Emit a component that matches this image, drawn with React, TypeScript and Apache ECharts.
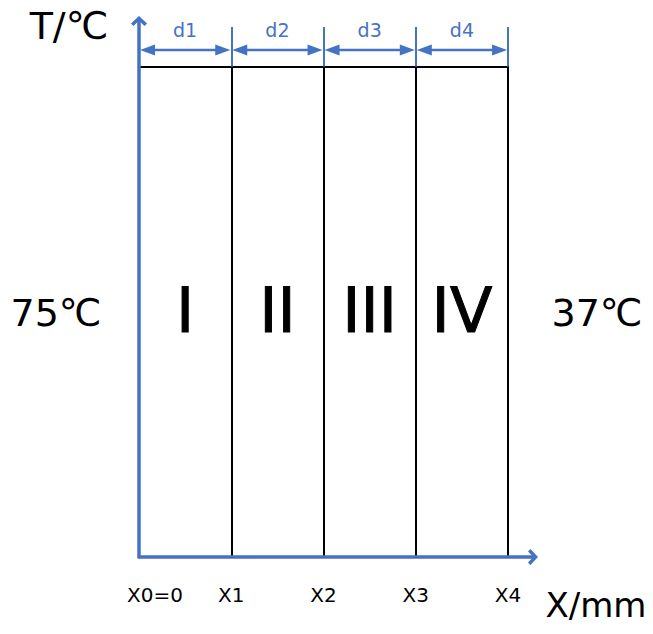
import { useEffect, useRef } from "react";
import * as echarts from "echarts";

// ---- data ----
const BOUNDARIES = [0, 1, 2, 3, 4];
const BOUNDARY_LABELS = ["X0=0", "X1", "X2", "X3", "X4"];
const LAYER_NAMES = ["I", "II", "III", "IV"];
const DIM_NAMES = ["d1", "d2", "d3", "d4"];
const X_MAX = 4.27;
const Y_MAX = 100;
const LAYER_TOP = 91.5;
const DIM_LEVEL = 94.6;
const TICK_TOP = 98.9;
const LABEL_LEVEL = 46;
const T_LEFT = "75℃";
const T_RIGHT = "37℃";
const X_NAME = "X/mm";
const Y_NAME = "T/℃";

const BLUE = "#4472C4";
const FONT = "'DejaVu Sans', 'Noto Sans CJK SC', sans-serif";
const CHEVRON = "path://M0,7.5L8,0L16,7.5L13.6,10L8,4.8L2.4,10Z";

export default function App() {
  const ref = useRef<HTMLDivElement>(null);
  useEffect(() => {
    document.body.style.margin = "0";
    const chart = echarts.init(ref.current!, undefined, { renderer: "svg" });

    const blackLines = [
      ...BOUNDARIES.map((b) => ({ coords: [[b, 0], [b, LAYER_TOP]] })),
      { coords: [[BOUNDARIES[0], LAYER_TOP], [BOUNDARIES[BOUNDARIES.length - 1], LAYER_TOP]] },
    ];
    const blueTicks = BOUNDARIES.slice(1).map((b) => ({ coords: [[b, LAYER_TOP], [b, TICK_TOP]] }));
    const dims = DIM_NAMES.map((n, i) => [BOUNDARIES[i], BOUNDARIES[i + 1], DIM_LEVEL, n]);
    const layers = LAYER_NAMES.map((n, i) => [(BOUNDARIES[i] + BOUNDARIES[i + 1]) / 2, LABEL_LEVEL, n]);

    const option: any = {
      animation: false,
      backgroundColor: "#fff",
      grid: { left: 139, right: 120, top: 21, bottom: 77, containLabel: false },
      xAxis: {
        type: "value",
        min: 0,
        max: X_MAX,
        interval: 1,
        z: 10,
        axisLine: {
          show: true,
          onZero: false,
          lineStyle: { color: BLUE, width: 3.5 },
          symbol: ["none", CHEVRON],
          symbolSize: [16, 10],
        },
        axisTick: { show: false },
        splitLine: { show: false },
        axisLabel: {
          show: true,
          margin: 28,
          color: "#000",
          fontSize: 20,
          fontFamily: FONT,
          formatter: (v: number) => {
            const i = BOUNDARIES.indexOf(v);
            if (i === 0) return `{first|${BOUNDARY_LABELS[0]}}`;
            return i > 0 ? BOUNDARY_LABELS[i] : "";
          },
          rich: {
            first: { padding: [0, 0, 0, 32], fontSize: 20, fontFamily: FONT, color: "#000" },
          },
        },
      },
      yAxis: {
        type: "value",
        min: 0,
        max: Y_MAX,
        z: 10,
        axisLine: {
          show: true,
          onZero: false,
          lineStyle: { color: BLUE, width: 3.5 },
          symbol: ["none", CHEVRON],
          symbolSize: [16, 10],
        },
        axisTick: { show: false },
        splitLine: { show: false },
        axisLabel: { show: false },
      },
      graphic: [
        { type: "text", x: 69, y: 26, style: { text: Y_NAME, fontSize: 38, fontFamily: FONT, fill: "#000", align: "center", verticalAlign: "middle" } },
        { type: "text", x: 596, y: 605, style: { text: X_NAME, fontSize: 34, fontFamily: FONT, fill: "#000", align: "center", verticalAlign: "middle" } },
        { type: "text", x: 56, y: 313, style: { text: T_LEFT, fontSize: 38, fontFamily: FONT, fill: "#000", align: "center", verticalAlign: "middle" } },
        { type: "text", x: 597, y: 313, style: { text: T_RIGHT, fontSize: 38, fontFamily: FONT, fill: "#000", align: "center", verticalAlign: "middle" } },
      ],
      series: [
        {
          type: "lines",
          coordinateSystem: "cartesian2d",
          silent: true,
          z: 2,
          lineStyle: { color: "#000", width: 2, opacity: 1, cap: "square" },
          data: blackLines,
        },
        {
          type: "lines",
          coordinateSystem: "cartesian2d",
          silent: true,
          z: 3,
          lineStyle: { color: BLUE, width: 2, opacity: 1 },
          data: blueTicks,
        },
        {
          type: "custom",
          coordinateSystem: "cartesian2d",
          silent: true,
          z: 4,
          encode: { x: [0, 1], y: 2 },
          data: dims,
          renderItem: (params: any, api: any) => {
            const a = api.coord([api.value(0), api.value(2)]);
            const b = api.coord([api.value(1), api.value(2)]);
            const L = 15;
            const H = 5.5;
            const ax = a[0] + 1;
            const bx = b[0] - 1;
            return {
              type: "group",
              children: [
                { type: "line", shape: { x1: ax + L - 1, y1: a[1], x2: bx - L + 1, y2: b[1] }, style: { stroke: BLUE, lineWidth: 2.5 } },
                { type: "polygon", shape: { points: [[ax, a[1]], [ax + L, a[1] - H], [ax + L, a[1] + H]] }, style: { fill: BLUE } },
                { type: "polygon", shape: { points: [[bx, b[1]], [bx - L, b[1] - H], [bx - L, b[1] + H]] }, style: { fill: BLUE } },
                {
                  type: "text",
                  x: (a[0] + b[0]) / 2,
                  y: a[1] - 20,
                  style: { text: DIM_NAMES[params.dataIndex], fontSize: 19, fontFamily: FONT, fill: BLUE, align: "center", verticalAlign: "middle" },
                },
              ],
            };
          },
        },
        {
          type: "scatter",
          silent: true,
          symbolSize: 0,
          z: 5,
          itemStyle: { opacity: 1 },
          data: layers,
          label: {
            show: true,
            position: "inside",
            formatter: (p: any) => p.value[2],
            fontSize: 62,
            fontFamily: FONT,
            color: "#000",
            opacity: 1,
            textBorderColor: "#000",
            textBorderWidth: 1,
          },
        },
      ],
    };

    chart.setOption(option);
    return () => chart.dispose();
  }, []);
  return <div ref={ref} style={{ width: 653, height: 634 }} />;
}
